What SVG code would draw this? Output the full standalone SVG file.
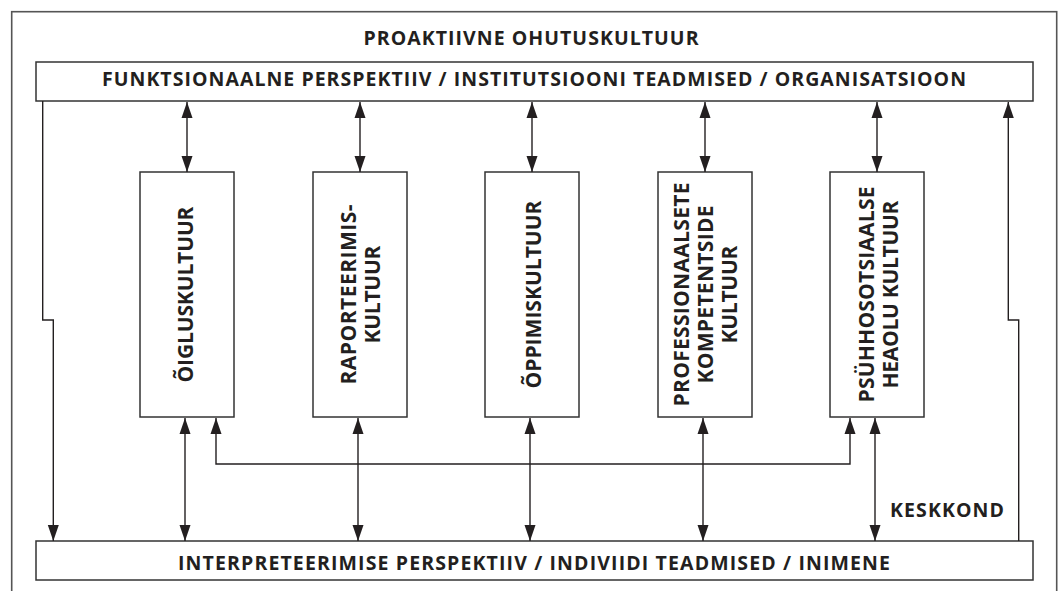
<svg xmlns="http://www.w3.org/2000/svg" width="1060" height="591" viewBox="0 0 1060 591">
<style>
.frame{fill:none;stroke:#555;stroke-width:1.6}
.box{fill:#fff;stroke:#333;stroke-width:1.5}
.t{font-family:"Open Sans","Noto Sans","Liberation Sans",sans-serif;font-weight:700;fill:#231f20;font-size:19.5px}
.r{font-family:"Open Sans","Noto Sans","Liberation Sans",sans-serif;font-weight:700;fill:#231f20;font-size:21px;text-anchor:middle}
.c{fill:none;stroke:#231f20;stroke-width:1.4}
.a{marker-end:url(#ah)}
.d{marker-start:url(#ah);marker-end:url(#ah)}
</style>
<defs>
<marker id="ah" markerUnits="userSpaceOnUse" markerWidth="16" markerHeight="12" refX="16" refY="6" orient="auto-start-reverse">
<path d="M0,0.5 L16,6 L0,11.5 z" fill="#231f20"/>
</marker>
</defs>
<rect class="frame" x="11.7" y="11.7" width="1045" height="600"/>
<text class="t" x="531" y="44.5" text-anchor="middle" textLength="335" lengthAdjust="spacing">PROAKTIIVNE OHUTUSKULTUUR</text>
<g id="top">
<rect class="box" x="36" y="62" width="997" height="39"/>
<text class="t" x="534" y="86" text-anchor="middle" textLength="864" lengthAdjust="spacing">FUNKTSIONAALNE PERSPEKTIIV / INSTITUTSIOONI TEADMISED / ORGANISATSIOON</text>
</g>
<g id="bottom">
<rect class="box" x="36" y="541" width="997" height="39"/>
<text class="t" x="534" y="570.3" text-anchor="middle" textLength="712" lengthAdjust="spacing">INTERPRETEERIMISE PERSPEKTIIV / INDIVIIDI TEADMISED / INIMENE</text>
</g>
<g id="n1">
<rect class="box" x="140" y="172" width="94" height="245"/>
<text class="r" transform="translate(0,294.5) rotate(-90)" x="0" y="192.5" textLength="176" lengthAdjust="spacing">ÕIGLUSKULTUUR</text>
</g>
<g id="n2">
<rect class="box" x="313" y="172" width="94" height="245"/>
<text class="r" transform="translate(0,294.5) rotate(-90)" x="0" y="356" textLength="180" lengthAdjust="spacing">RAPORTEERIMIS-</text>
<text class="r" transform="translate(0,294.5) rotate(-90)" x="0" y="380" textLength="98" lengthAdjust="spacing">KULTUUR</text>
</g>
<g id="n3">
<rect class="box" x="485" y="172" width="94" height="245"/>
<text class="r" transform="translate(0,294.5) rotate(-90)" x="0" y="540.5" textLength="188" lengthAdjust="spacing">ÕPPIMISKULTUUR</text>
</g>
<g id="n4">
<rect class="box" x="658" y="172" width="94" height="245"/>
<text class="r" transform="translate(0,294.5) rotate(-90)" x="0" y="688.5" textLength="224" lengthAdjust="spacing">PROFESSIONAALSETE</text>
<text class="r" transform="translate(0,294.5) rotate(-90)" x="0" y="712.5" textLength="178" lengthAdjust="spacing">KOMPETENTSIDE</text>
<text class="r" transform="translate(0,294.5) rotate(-90)" x="0" y="736.5" textLength="98" lengthAdjust="spacing">KULTUUR</text>
</g>
<g id="n5">
<rect class="box" x="830" y="172" width="94" height="245"/>
<text class="r" transform="translate(0,294.5) rotate(-90)" x="0" y="873.5" textLength="216" lengthAdjust="spacing">PSÜHHOSOTSIAALSE</text>
<text class="r" transform="translate(0,294.5) rotate(-90)" x="0" y="897.5" textLength="188" lengthAdjust="spacing">HEAOLU KULTUUR</text>
</g>
<g id="connectors">
<path class="c d" d="M187,102 V172"/>
<path class="c d" d="M360,102 V172"/>
<path class="c d" d="M532,102 V172"/>
<path class="c d" d="M705,102 V172"/>
<path class="c d" d="M877,102 V172"/>
<path class="c d" d="M185,418 V541"/>
<path class="c d" d="M358,418 V541"/>
<path class="c d" d="M530,418 V541"/>
<path class="c d" d="M703,418 V541"/>
<path class="c d" d="M875,418 V541"/>
<path class="c d" d="M216,418 V464 H850 V418"/>
<path class="c a" d="M42.7,101 V320 H53.3 V541"/>
<path class="c a" d="M1018.7,541 V320 H1008.3 V102"/>
</g>
<text class="t" x="1004" y="516.5" text-anchor="end" textLength="114" lengthAdjust="spacing">KESKKOND</text>
</svg>
